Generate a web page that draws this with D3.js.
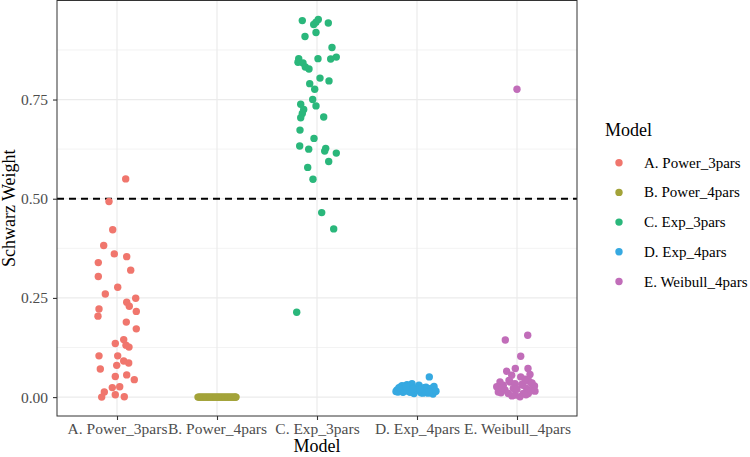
<script src="https://d3js.org/d3.v7.min.js"></script>
<style>
  body { margin: 0; background: #fff; }
  text { font-family: "Liberation Serif", "DejaVu Serif", serif; }
</style>
<svg id="main_canvas" width="750" height="457"></svg>
<script>
    // Model categories (x axis + legend)
    const models = ["A. Power_3pars", "B. Power_4pars", "C. Exp_3pars", "D. Exp_4pars", "E. Weibull_4pars"];
    const modelColors = ["#F0766D", "#A3A339", "#2AB77B", "#36A9E1", "#C16DB9"];

    // Schwarz weights per model
    const powerThree = [0.550, 0.493, 0.422, 0.382, 0.361, 0.354, 0.339, 0.320, 0.304, 0.277,
        0.260, 0.249, 0.239, 0.229, 0.222, 0.216, 0.204, 0.189, 0.172, 0.145,
        0.135, 0.131, 0.126, 0.104, 0.104, 0.091, 0.086, 0.080, 0.071, 0.056,
        0.052, 0.044, 0.024, 0.026, 0.013, 0.000, 0.006, 0.001];
    const powerFour = [0, 0, 0, 0, 0, 0, 0, 0, 0, 0, 0, 0, 0, 0, 0, 0, 0, 0, 0, 0,
        0, 0, 0, 0, 0, 0, 0, 0, 0, 0, 0, 0, 0, 0, 0, 0, 0, 0, 0, 0];
    const expThree = [0.949, 0.952, 0.945, 0.939, 0.943, 0.909, 0.919, 0.881, 0.853, 0.844,
        0.842, 0.853, 0.852, 0.857, 0.832, 0.827, 0.804, 0.797, 0.790, 0.776,
        0.750, 0.734, 0.738, 0.725, 0.715, 0.704, 0.706, 0.673, 0.652, 0.633,
        0.625, 0.627, 0.620, 0.615, 0.594, 0.579, 0.549, 0.465, 0.424, 0.214];
    const expFour = [0.051, 0.034, 0.030, 0.028, 0.025, 0.022, 0.020, 0.018, 0.016, 0.015,
        0.014, 0.012, 0.010, 0.009, 0.008, 0.026, 0.024, 0.021, 0.019, 0.017,
        0.013, 0.011, 0.031, 0.027, 0.023, 0.015, 0.018, 0.020, 0.012, 0.016,
        0.029, 0.022, 0.014, 0.010, 0.025, 0.019, 0.017, 0.021, 0.013, 0.024];
    const weibullFour = [0.776, 0.144, 0.156, 0.103, 0.072, 0.072, 0.065, 0.057, 0.055, 0.051,
        0.038, 0.038, 0.034, 0.034, 0.032, 0.030, 0.026, 0.022, 0.022, 0.018,
        0.018, 0.013, 0.009, 0.009, 0.009, 0.005, 0.001, 0.040, 0.045, 0.028,
        0.015, 0.011, 0.006, 0.020, 0.024, 0.036, 0.042, 0.003, 0.016, 0.030];

    // horizontal jitter of each point (category units), as seen in the picture
    const powerThreeJit = [0.087, -0.08, -0.043, -0.133, -0.027, 0.097, -0.187, 0.137, -0.187, 0.007,
        -0.117, 0.187, 0.097, 0.123, -0.18, 0.193, -0.19, 0.093, 0.193, 0.067,
        -0.017, 0.09, 0.12, -0.18, 0.007, 0.067, 0.117, -0.003, -0.167, 0.097,
        -0.017, 0.173, -0.047, 0.027, -0.127, -0.153, -0.017, 0.073];
    const powerFourJit = [-0.19, -0.18, -0.17, -0.16, -0.15, -0.13, -0.12, -0.1, -0.09, -0.08,
        -0.06, -0.05, -0.03, -0.02, 0, 0.01, 0.03, 0.04, 0.06, 0.07,
        0.09, 0.1, 0.12, 0.13, 0.15, 0.16, 0.18, 0.19, 0.17, -0.14,
        -0.11, -0.04, 0.02, 0.05, 0.08, 0.11, 0.14, -0.07, -0.01, 0.185];
    const expThreeJit = [-0.147, 0.013, -0.01, -0.033, 0.113, -0.12, -0.01, 0.15, -0.183, -0.19,
        -0.14, 0.01, 0.137, 0.193, -0.117, -0.08, 0.03, 0.12, -0.073, -0.023,
        -0.043, -0.01, -0.163, -0.133, -0.147, -0.163, 0.067, -0.17, -0.03, -0.173,
        -0.083, 0.087, 0.077, 0.193, 0.117, -0.093, -0.04, 0.047, 0.167, -0.203];
    const expFourJit = [0.123, -0.05, 0.02, -0.12, 0.09, -0.17, 0.15, -0.2, 0.05, -0.09,
        0.18, -0.14, 0.11, -0.03, 0.16, -0.16, 0.07, -0.06, 0.13, 0.0,
        -0.19, 0.04, -0.1, 0.17, -0.02, 0.19, -0.13, 0.1, -0.07, 0.08,
        -0.15, 0.14, -0.21, 0.06, -0.11, 0.03, 0.18, -0.04, 0.12, -0.18];
    const weibullFourJit = [0, -0.117, 0.107, 0.037, -0.017, 0.11, -0.103, 0.13, -0.053, 0.037,
        -0.17, -0.07, 0.147, -0.02, 0.047, -0.137, -0.203, -0.037, 0.097, -0.12,
        0.163, -0.187, -0.087, 0.063, 0.113, -0.02, 0.03, 0.12, 0.08, 0.175,
        0.18, -0.16, 0.09, 0.0, -0.15, 0.15, -0.08, -0.05, 0.14, 0.06];

    const yTicks = [0, 0.25, 0.5, 0.75];
    const yMinor = [0.125, 0.375, 0.625, 0.875];
    const cutoff = 0.5;

    const groups = [
        [powerThree, powerThreeJit],
        [powerFour, powerFourJit],
        [expThree, expThreeJit],
        [expFour, expFourJit],
        [weibullFour, weibullFourJit]
    ];
    const points = [];
    groups.forEach(([vals, jit], gi) => {
        vals.forEach((v, i) => points.push({ model: models[gi], idx: gi + 1, value: v, jit: jit[i] }));
    });

    const panel = { left: 57, right: 577, top: 0.5, bottom: 416 };
    const R = 3.7;

    const x = d3.scaleLinear()
        .domain([0.4, models.length + 0.6])
        .range([panel.left, panel.right]);
    const yMax = d3.max(points, d => d.value);
    const pad = yMax * 0.05;
    const y = d3.scaleLinear()
        .domain([-pad, yMax + pad])
        .range([panel.bottom, panel.top]);

    const color = d3.scaleOrdinal(models, modelColors);

    const svg = d3.select("#main_canvas");

    // grid
    const grid = svg.append("g");
    grid.selectAll(".minor").data(yMinor).join("line")
        .attr("x1", panel.left).attr("x2", panel.right)
        .attr("y1", d => y(d)).attr("y2", d => y(d))
        .attr("stroke", "#EBEBEB").attr("stroke-width", 0.6);
    grid.selectAll(".majorY").data(yTicks).join("line")
        .attr("x1", panel.left).attr("x2", panel.right)
        .attr("y1", d => y(d)).attr("y2", d => y(d))
        .attr("stroke", "#EBEBEB").attr("stroke-width", 1.2);
    grid.selectAll(".majorX").data(models).join("line")
        .attr("x1", (d, i) => x(i + 1)).attr("x2", (d, i) => x(i + 1))
        .attr("y1", panel.top).attr("y2", panel.bottom)
        .attr("stroke", "#EBEBEB").attr("stroke-width", 1.2);

    // threshold
    svg.append("line")
        .attr("x1", panel.left).attr("x2", panel.right)
        .attr("y1", y(cutoff)).attr("y2", y(cutoff))
        .attr("stroke", "#000").attr("stroke-width", 1.8)
        .attr("stroke-dasharray", "7,5");

    // points
    svg.append("g").selectAll("circle").data(points).join("circle")
        .attr("cx", d => x(d.idx + d.jit))
        .attr("cy", d => y(d.value))
        .attr("r", R)
        .attr("fill", d => color(d.model));

    // border
    svg.append("rect")
        .attr("x", panel.left).attr("y", panel.top)
        .attr("width", panel.right - panel.left).attr("height", panel.bottom - panel.top)
        .attr("fill", "none").attr("stroke", "#333").attr("stroke-width", 1);

    // axes
    const xAxis = svg.append("g")
        .attr("transform", `translate(0,${panel.bottom})`)
        .call(d3.axisBottom(x)
            .tickValues(models.map((d, i) => i + 1))
            .tickFormat((d, i) => models[i])
            .tickSize(4).tickPadding(3));
    const yAxis = svg.append("g")
        .attr("transform", `translate(${panel.left},0)`)
        .call(d3.axisLeft(y).tickValues(yTicks).tickFormat(d3.format(".2f"))
            .tickSize(4).tickPadding(5));
    [xAxis, yAxis].forEach(g => {
        g.select(".domain").remove();
        g.selectAll(".tick line").attr("stroke", "#333").attr("stroke-width", 1.1);
        g.selectAll(".tick text")
            .attr("fill", "#4D4D4D")
            .style("font", "15.5px 'Liberation Serif'");
    });

    svg.append("text")
        .attr("x", (panel.left + panel.right) / 2).attr("y", 452)
        .attr("text-anchor", "middle")
        .style("font-size", "18px")
        .text("Model");
    svg.append("text")
        .attr("transform", `translate(15,${(panel.top + panel.bottom) / 2}) rotate(-90)`)
        .attr("text-anchor", "middle")
        .style("font-size", "18px")
        .text("Schwarz Weight");

    // legend
    const legend = svg.append("g").attr("transform", "translate(605,136)");
    legend.append("text").style("font-size", "18px").text("Model");
    legend.selectAll("g").data(models).join("g")
        .attr("transform", (d, i) => `translate(0,${26.7 + i * 29.7})`)
        .call(g => g.append("circle")
            .attr("cx", 14).attr("cy", 0).attr("r", R)
            .attr("fill", d => color(d)))
        .call(g => g.append("text")
            .attr("x", 39).attr("y", 5)
            .style("font-size", "15px")
            .text(d => d));
</script>
